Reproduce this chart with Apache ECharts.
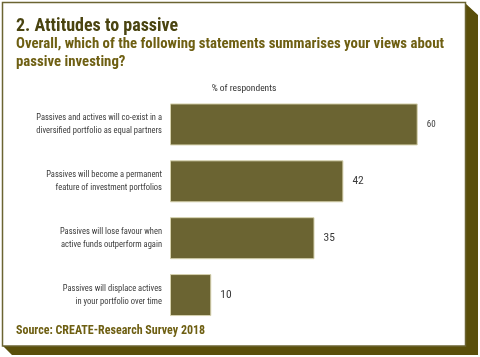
<!DOCTYPE html>
<html><head><meta charset="utf-8">
<script src="https://cdn.jsdelivr.net/npm/echarts@6/dist/echarts.min.js"></script>
<style>html,body{margin:0;padding:0;background:#fff}#c{width:480px;height:357px}</style>
</head><body><div id="c"></div>
<script>
var categories = [
  "Passives and actives will co-exist in a\ndiversified portfolio as equal partners",
  "Passives will become a permanent\nfeature of investment portfolios",
  "Passives will lose favour when\nactive funds outperform again",
  "Passives will displace actives\nin your portfolio over time"
];
var values = [60, 42, 35, 10];
var titleText = "2. Attitudes to passive";
var subtitleText = "Overall, which of the following statements summarises your views about\npassive investing?";
var axisTitle = "% of respondents";
var sourceText = "Source: CREATE-Research Survey 2018";

var COND = '"Roboto Condensed","DejaVu Sans Condensed",sans-serif';
var chart = echarts.init(document.getElementById('c'), null, {renderer: 'canvas'});
chart.setOption({
  backgroundColor: '#ffffff',
  animation: false,
  graphic: [
    {type: 'polygon', z: -2, silent: true,
     shape: {points: [[465,3],[478,15],[478,355],[12,355],[3,346],[465,346]]},
     style: {fill: '#5a4f0a'}},
    {type: 'rect', z: -1, silent: true,
     shape: {x: 2.5, y: 2.5, width: 463, height: 343.5},
     style: {fill: '#ffffff', stroke: '#6b6432', lineWidth: 1.5}}
  ],
  title: [
    {text: titleText, left: 16, top: 17, padding: 0,
     textStyle: {fontFamily: COND, fontSize: 18, fontWeight: 'bold', color: '#4a4410'}},
    {text: subtitleText, left: 16, top: 35, padding: 0,
     textStyle: {fontFamily: COND, fontSize: 14.8, fontWeight: 'bold', color: '#6e5f12', lineHeight: 18}},
    {text: axisTitle, left: 244, top: 84, padding: 0, textAlign: 'center',
     textStyle: {fontFamily: COND, fontSize: 9.5, fontWeight: 'normal', color: '#333333'}},
    {text: sourceText, left: 16, top: 325, padding: 0,
     textStyle: {fontFamily: COND, fontSize: 12, fontWeight: 'bold', color: '#6e5f12'}}
  ],
  grid: {left: 170, right: 21, top: 96, bottom: 33.5, containLabel: false},
  xAxis: {type: 'value', min: 0, max: 70, show: false},
  yAxis: {
    type: 'category', data: categories, inverse: true, z: 5,
    axisLine: {show: false}, axisTick: {show: false}, splitLine: {show: false},
    axisLabel: {margin: 8, fontFamily: COND, fontSize: 8.5, color: '#3a3a3a', lineHeight: 13, align: 'right'}
  },
  series: [{
    type: 'bar', z: 5,
    data: values.map(function (v, i) {
      return i === 0 ? {value: v, label: {fontSize: 9}} : v;
    }),
    barWidth: 42,
    itemStyle: {color: '#6b6432', borderColor: '#d6d2ae', borderWidth: 1},
    label: {show: true, position: 'right', distance: 9, fontFamily: COND, fontSize: 11.5, color: '#3a3a3a'}
  }]
});
</script></body></html>
